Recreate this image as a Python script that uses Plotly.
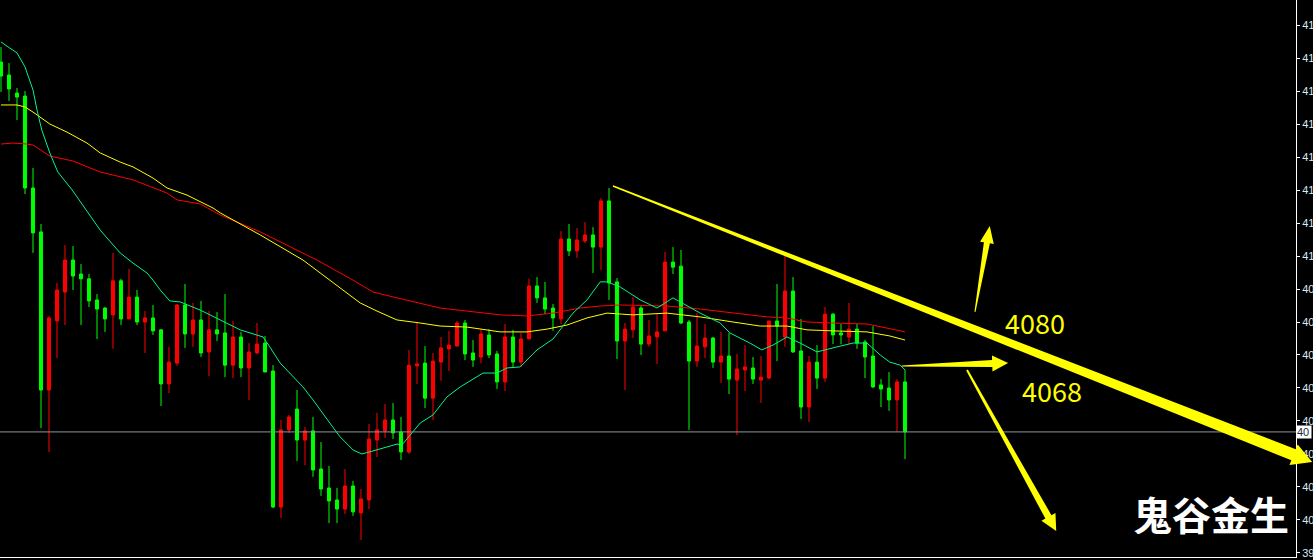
import plotly.graph_objects as go

# candle index (one bar every 8 px on the original MT4 chart)
opens = [4180.4, 4175.3, 4168.2, 4167.0, 4130.8, 4113.5, 4051.2, 4078.4, 4089.8, 4102.4,
         4096.9, 4095.0, 4086.7, 4083.5, 4080.8, 4094.2, 4079.2, 4087.8, 4078.0, 4079.6,
         4074.9, 4053.6, 4061.8, 4084.7, 4073.3, 4078.8, 4066.2, 4074.9, 4073.7, 4061.0,
         4072.1, 4059.9, 4065.8, 4069.7, 4058.7, 4005.1, 4035.5, 4043.7, 4031.5, 4035.1,
         4020.1, 4012.6, 4007.9, 4004.3, 4013.4, 4002.8, 4007.9, 4031.5, 4035.1, 4039.4,
         4034.7, 4026.8, 4060.7, 4061.8, 4048.0, 4062.2, 4067.4, 4068.5, 4077.6, 4065.8,
         4064.2, 4072.9, 4065.4, 4054.4, 4072.1, 4062.2, 4071.3, 4092.2, 4087.5, 4083.5,
         4079.2, 4110.7, 4106.0, 4109.9, 4112.3, 4107.5, 4125.7, 4093.8, 4070.5, 4074.9,
         4083.5, 4069.3, 4072.1, 4074.5, 4101.6, 4100.0, 4078.0, 4062.6, 4068.2, 4071.7,
         4062.2, 4064.6, 4055.1, 4059.1, 4059.9, 4055.1, 4055.9, 4078.4, 4072.1, 4090.2,
         4066.6, 4044.5, 4062.2, 4055.9, 4081.1, 4073.7, 4072.1, 4075.2, 4070.1, 4064.6,
         4053.2, 4052.0, 4047.3, 4054.4]
highs = [4186.3, 4180.0, 4170.2, 4169.0, 4138.7, 4116.6, 4080.4, 4093.4, 4108.3, 4107.9,
         4100.8, 4096.9, 4089.0, 4083.9, 4105.2, 4095.0, 4098.9, 4090.6, 4082.3, 4084.7,
         4075.2, 4068.2, 4085.1, 4093.0, 4085.5, 4086.3, 4082.3, 4081.9, 4089.0, 4078.4,
         4074.1, 4069.7, 4077.6, 4072.5, 4061.0, 4039.4, 4041.4, 4051.2, 4036.6, 4040.6,
         4030.7, 4021.3, 4012.6, 4020.1, 4015.4, 4012.2, 4037.8, 4042.2, 4045.7, 4046.1,
         4040.6, 4067.0, 4077.6, 4068.5, 4065.8, 4072.1, 4074.5, 4078.4, 4078.8, 4070.9,
         4075.2, 4075.2, 4066.6, 4077.2, 4074.9, 4073.7, 4095.0, 4095.7, 4093.8, 4085.1,
         4113.8, 4116.6, 4115.0, 4117.4, 4115.4, 4126.9, 4130.8, 4095.3, 4077.6, 4087.8,
         4084.3, 4078.8, 4081.1, 4105.6, 4107.5, 4106.4, 4078.8, 4081.5, 4077.2, 4072.1,
         4074.1, 4073.7, 4065.4, 4068.9, 4064.2, 4064.6, 4078.4, 4093.0, 4104.4, 4095.7,
         4079.2, 4064.6, 4068.9, 4083.9, 4081.5, 4077.2, 4085.5, 4077.2, 4070.9, 4076.4,
         4055.5, 4058.3, 4055.5, 4059.1]
lows = [4168.6, 4165.1, 4157.6, 4128.4, 4105.2, 4036.2, 4026.8, 4063.8, 4076.8, 4090.6,
        4076.8, 4083.9, 4071.3, 4074.1, 4067.4, 4076.8, 4079.2, 4076.8, 4065.8, 4072.9,
        4044.9, 4050.0, 4060.7, 4067.8, 4068.2, 4064.2, 4056.7, 4070.5, 4056.3, 4055.9,
        4056.3, 4047.3, 4065.4, 4058.3, 4004.7, 4000.8, 4034.3, 4023.2, 4021.6, 4017.0,
        4009.5, 3998.8, 3998.8, 4002.4, 4001.6, 3992.1, 4004.3, 4024.8, 4032.3, 4031.9,
        4023.6, 4026.0, 4053.6, 4044.1, 4039.4, 4054.8, 4058.7, 4068.5, 4063.0, 4060.3,
        4061.8, 4063.8, 4051.6, 4050.8, 4060.3, 4060.3, 4071.3, 4085.5, 4081.1, 4074.5,
        4077.2, 4104.0, 4103.2, 4109.1, 4097.3, 4098.5, 4086.7, 4063.4, 4051.2, 4071.7,
        4065.0, 4068.2, 4061.5, 4074.5, 4096.9, 4077.2, 4035.5, 4060.3, 4063.8, 4059.9,
        4054.0, 4049.6, 4033.5, 4050.8, 4053.6, 4046.1, 4055.5, 4062.6, 4068.2, 4065.8,
        4039.8, 4038.6, 4051.6, 4054.4, 4069.3, 4069.3, 4069.3, 4067.4, 4055.9, 4052.0,
        4044.5, 4043.0, 4034.7, 4024.0]
closes = [4174.9, 4169.8, 4166.6, 4130.8, 4113.1, 4051.2, 4079.6, 4090.6, 4102.4, 4096.1,
          4095.0, 4086.3, 4083.1, 4079.2, 4094.2, 4079.2, 4087.8, 4078.0, 4079.6, 4074.5,
          4053.6, 4062.2, 4084.7, 4073.3, 4078.8, 4065.8, 4074.9, 4073.3, 4061.0, 4072.1,
          4059.9, 4066.2, 4069.3, 4058.3, 4005.1, 4035.5, 4040.6, 4031.5, 4035.1, 4019.7,
          4012.2, 4007.5, 4004.3, 4013.4, 4003.2, 4008.3, 4031.9, 4035.5, 4039.4, 4034.3,
          4026.8, 4061.0, 4061.5, 4048.0, 4062.6, 4067.8, 4068.9, 4077.6, 4065.4, 4063.0,
          4073.3, 4065.0, 4054.4, 4072.1, 4062.2, 4071.3, 4092.2, 4087.5, 4083.1, 4079.6,
          4110.7, 4106.0, 4110.3, 4112.3, 4107.5, 4125.7, 4093.4, 4070.5, 4075.2, 4083.9,
          4069.3, 4072.5, 4074.1, 4101.6, 4099.6, 4077.6, 4062.6, 4068.5, 4071.7, 4062.2,
          4064.6, 4055.5, 4059.5, 4060.3, 4055.5, 4056.3, 4078.4, 4076.4, 4090.2, 4066.2,
          4044.5, 4062.2, 4055.9, 4081.1, 4072.9, 4072.9, 4075.2, 4069.7, 4064.2, 4052.4,
          4051.6, 4047.3, 4054.4, 4034.7]
bars = list(range(len(closes)))

# moving averages (bar index, price)
ma_fast_x = [0, 2, 3, 4, 4.5, 5.1, 6.1, 7.1, 8.9, 10.5, 12.4, 13.25, 14.9, 16.5, 18.25, 19,
             19.9, 21.1, 22.4, 24.9, 26.5, 27.4, 29.9, 32.75, 33.6, 34.9, 37.75, 39, 41.1,
             42.4, 44, 45.1, 46.5, 48.25, 49.5, 50.1, 51.5, 52.4, 54, 55.75, 57.4, 60.25, 62,
             63.25, 64.9, 65.75, 67, 69, 69.9, 71.5, 73.25, 74.9, 75.75, 77.4, 79.9, 82, 84,
             85.75, 87.4, 89.9, 91.1, 93.6, 95.1, 96.5, 98.25, 99.9, 102, 104, 106.5, 108.25,
             109.9, 111.1, 112.4, 113]
ma_fast_y = [4188.3, 4184.0, 4178.5, 4169.4, 4161.5, 4153.6, 4144.6, 4137.1, 4130.0, 4122.9,
             4114.2, 4111.1, 4105.2, 4101.2, 4097.3, 4094.5, 4090.6, 4086.3, 4085.9, 4082.7,
             4080.4, 4078.8, 4074.9, 4072.1, 4068.2, 4061.8, 4052.4, 4047.3, 4038.2, 4032.7,
             4027.6, 4026.0, 4027.2, 4028.8, 4029.9, 4029.5, 4034.7, 4038.2, 4041.4, 4048.5,
             4052.4, 4057.9, 4057.9, 4059.9, 4060.3, 4063.0, 4067.0, 4071.3, 4074.9, 4081.5,
             4086.7, 4093.8, 4093.8, 4091.8, 4086.7, 4083.5, 4087.5, 4084.3, 4081.5, 4077.6,
             4073.7, 4069.7, 4067.0, 4068.9, 4072.1, 4069.7, 4066.2, 4067.8, 4069.7, 4069.7,
             4065.0, 4062.2, 4061.0, 4059.1]
ma_mid_x = [0, 2, 3, 4, 6.1, 8.25, 10.75, 12.4, 14.9, 16.5, 19, 20.75, 23.25, 26.5, 27.4,
            32.4, 37.75, 41.1, 42.75, 44.9, 47, 49.5, 52.4, 54.9, 58.25, 62.4, 65.75, 68.25,
            70.75, 73.25, 75.75, 79, 83.25, 87.4, 91.5, 94.9, 98.25, 100.75, 104, 108.25,
            111.1, 113]
ma_mid_y = [4163.5, 4163.5, 4162.7, 4160.7, 4156.0, 4152.8, 4148.5, 4144.6, 4141.0, 4139.1,
            4134.7, 4130.8, 4128.0, 4122.9, 4121.0, 4112.3, 4102.4, 4094.5, 4090.6, 4085.5,
            4082.3, 4078.8, 4077.6, 4076.4, 4076.0, 4074.1, 4074.1, 4075.2, 4076.8, 4079.6,
            4081.5, 4080.8, 4081.5, 4080.0, 4078.0, 4076.4, 4076.4, 4074.9, 4074.5, 4074.1,
            4072.5, 4070.9]
ma_slow_x = [0, 1.5, 3.25, 4, 6.1, 9, 12.4, 16.5, 20.75, 22, 24.9, 27.4, 32.4, 39.5, 44,
             46.5, 49.5, 52.4, 54.9, 58.25, 62.4, 65.75, 69, 72.4, 74.9, 77.4, 83.25, 87.4,
             91.5, 95.75, 98.25, 100.75, 104, 108.25, 110.75, 113]
ma_slow_y = [4148.1, 4148.5, 4148.1, 4147.7, 4143.4, 4141.4, 4137.1, 4134.0, 4128.8, 4126.1,
             4124.5, 4120.2, 4113.5, 4102.4, 4094.5, 4089.8, 4087.5, 4085.5, 4083.5, 4082.3,
             4080.8, 4080.4, 4081.5, 4083.5, 4084.3, 4084.7, 4084.3, 4083.1, 4081.5, 4080.0,
             4079.6, 4078.0, 4077.6, 4077.2, 4075.6, 4074.1]

# price scale on the right (labels are cut by the screenshot edge, only two digits show)
tick_vals = [3987, 4000, 4013, 4026, 4039, 4052, 4065, 4078, 4091, 4104, 4117, 4130, 4143,
             4156, 4169, 4182, 4195]
tick_labels = [str(v)[:2] for v in tick_vals]

# hand drawn arrows: (start bar, start price, end bar, end price)
arrows = [
    (76.5, 4131.6, 163.9, 4022.8),
    (121.75, 4082.0, 123.6, 4115.8),
    (112.6, 4060.7, 125.9, 4061.8),
    (120.75, 4059.1, 131.9, 3995.7),
]
# (start half width, shaft end half width, head half width, head length) in px
arrow_sizes = [(0.8, 6, 11, 20), (0.5, 3, 7, 17), (0.5, 3.5, 8, 16), (1, 3.5, 8, 16)]

notes = ["4080", "4068"]
notes_x = [129.3, 131.4]
notes_y = [4078.0, 4051.2]

W, H = 1313, 560
ML, MR, MT, MB = 0, 17, 0, 3
PW, PH = W - ML - MR, H - MT - MB
X0, X1 = -0.125, 161.875
Y0, Y1 = 3985.42, 4204.85


def to_px(b, p):
    return (b - X0) / (X1 - X0) * PW, (Y1 - p) / (Y1 - Y0) * PH


def arrow_path(b0, p0, b1, p1, w0, w1, hw, hl):
    x0, y0 = to_px(b0, p0)
    x1, y1 = to_px(b1, p1)
    d = ((x1 - x0) ** 2 + (y1 - y0) ** 2) ** 0.5
    ux, uy = (x1 - x0) / d, (y1 - y0) / d
    nx, ny = -uy, ux
    bx, by = x1 - ux * hl, y1 - uy * hl
    pts = [(x0 + nx * w0, y0 + ny * w0), (bx + nx * w1, by + ny * w1),
           (bx + nx * hw, by + ny * hw), (x1, y1),
           (bx - nx * hw, by - ny * hw), (bx - nx * w1, by - ny * w1),
           (x0 - nx * w0, y0 - ny * w0)]
    return "M " + " L ".join("%.4f,%.4f" % (x / PW, 1 - y / PH) for x, y in pts) + " Z"


fig = go.Figure()
fig.add_trace(go.Candlestick(
    x=bars, open=opens, high=highs, low=lows, close=closes,
    increasing=dict(line=dict(color="#ff0000", width=1), fillcolor="#ff0000"),
    decreasing=dict(line=dict(color="#00ff00", width=1), fillcolor="#00ff00"),
    hoverinfo="skip",
))
fig.add_trace(go.Scatter(x=ma_slow_x, y=ma_slow_y, mode="lines",
                         line=dict(color="#ff0000", width=1), hoverinfo="skip"))
fig.add_trace(go.Scatter(x=ma_mid_x, y=ma_mid_y, mode="lines",
                         line=dict(color="#ffff00", width=1), hoverinfo="skip"))
fig.add_trace(go.Scatter(x=ma_fast_x, y=ma_fast_y, mode="lines",
                         line=dict(color="#00f58c", width=1), hoverinfo="skip"))

# bid line
fig.add_shape(type="line", xref="paper", x0=0, x1=1, yref="y", y0=closes[-1], y1=closes[-1],
              line=dict(color="#8a96a3", width=1))

for a, s in zip(arrows, arrow_sizes):
    fig.add_shape(type="path", xref="paper", yref="paper", path=arrow_path(*a, *s),
                  fillcolor="#ffff00", line=dict(width=0), layer="above")

for t, x, y in zip(notes, notes_x, notes_y):
    fig.add_annotation(x=x, y=y, text=t, showarrow=False,
                       font=dict(family="Noto Sans CJK SC", size=27, color="#ffff00"))

fig.add_annotation(x=151.3, y=4002.9, text="<b>鬼谷金生</b>", showarrow=False,
                   font=dict(family="Noto Sans CJK SC", size=39, color="#ffffff"))

# current price tag on the axis
fig.add_annotation(xref="paper", x=1, xanchor="left", xshift=0, y=closes[-1], yref="y",
                   text=str(closes[-1])[:2], showarrow=False, bgcolor="#ffffff",
                   width=14, align="left", borderpad=0,
                   font=dict(family="Liberation Sans", size=11, color="#1a2a40"))

fig.update_layout(
    width=W, height=H,
    margin=dict(l=ML, r=MR, t=MT, b=MB),
    paper_bgcolor="#000000", plot_bgcolor="#000000",
    showlegend=False,
    boxgap=0.45,
    xaxis=dict(range=[X0, X1], showgrid=False, zeroline=False, showticklabels=False,
               showline=True, linecolor="#ffffff", linewidth=1, ticks="",
               rangeslider=dict(visible=False), automargin=False),
    yaxis=dict(range=[Y0, Y1], side="right", showgrid=False, zeroline=False,
               showline=True, linecolor="#ffffff", linewidth=1,
               ticks="outside", ticklen=3, tickcolor="#ffffff",
               tickvals=tick_vals, ticktext=tick_labels, automargin=False,
               tickfont=dict(family="Liberation Sans", size=11, color="#dce8f5")),
)

fig.write_html("out.html", config={"displayModeBar": False},
               post_script="document.body.style.margin='0';")
